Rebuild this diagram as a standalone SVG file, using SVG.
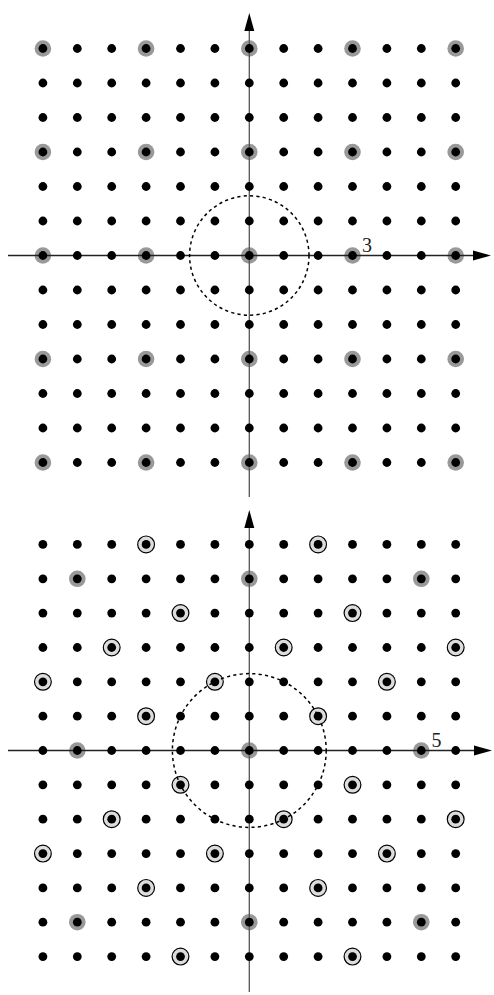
<svg xmlns="http://www.w3.org/2000/svg" xmlns:xlink="http://www.w3.org/1999/xlink" width="494" height="995" viewBox="0 0 494 995">
<style>
.dot{fill:#000}
.grey{fill:#999}
.ring{fill:#ddd;stroke:#000;stroke-width:1.2}
.axh{stroke:#222;stroke-width:1.3;fill:none}
.axv{stroke:#555;stroke-width:1.3;fill:none}
.dash{fill:none;stroke:#000;stroke-width:1.5;stroke-dasharray:3.2 3.2}
.lbl{font-family:"Liberation Serif","DejaVu Serif",serif;font-size:20px;fill:#222}
.head{fill:#000}
</style>
<defs>
<g id="row">
<circle class="dot" cx="42.9" cy="0" r="4.4"/><circle class="dot" cx="77.3" cy="0" r="4.4"/><circle class="dot" cx="111.7" cy="0" r="4.4"/><circle class="dot" cx="146.1" cy="0" r="4.4"/><circle class="dot" cx="180.5" cy="0" r="4.4"/><circle class="dot" cx="214.9" cy="0" r="4.4"/><circle class="dot" cx="249.3" cy="0" r="4.4"/><circle class="dot" cx="283.7" cy="0" r="4.4"/><circle class="dot" cx="318.1" cy="0" r="4.4"/><circle class="dot" cx="352.5" cy="0" r="4.4"/><circle class="dot" cx="386.9" cy="0" r="4.4"/><circle class="dot" cx="421.3" cy="0" r="4.4"/><circle class="dot" cx="455.7" cy="0" r="4.4"/>
</g>
<g id="grow3">
<circle class="grey" cx="42.9" cy="0" r="8.3"/><circle class="grey" cx="146.1" cy="0" r="8.3"/><circle class="grey" cx="249.3" cy="0" r="8.3"/><circle class="grey" cx="352.5" cy="0" r="8.3"/><circle class="grey" cx="455.7" cy="0" r="8.3"/>
</g>
<g id="grow5">
<circle class="grey" cx="77.3" cy="0" r="8.3"/><circle class="grey" cx="249.3" cy="0" r="8.3"/><circle class="grey" cx="421.3" cy="0" r="8.3"/>
</g>
</defs>

<g id="top-panel">
<g id="top-grey">
<use xlink:href="#grow3" y="48.5"/><use xlink:href="#grow3" y="152"/><use xlink:href="#grow3" y="255.5"/><use xlink:href="#grow3" y="359"/><use xlink:href="#grow3" y="462.5"/>
</g>
<g id="top-axes">
<line class="axh" x1="8" y1="255.5" x2="476" y2="255.5"/>
<polygon class="head" points="491,255.5 473,250.5 473,260.5"/>
<line class="axv" x1="249.3" y1="497" x2="249.3" y2="30"/>
<polygon class="head" points="249.3,13 244.3,31 254.3,31"/>
</g>
<circle id="top-circle" class="dash" cx="249.3" cy="255.5" r="59.7"/>
<g id="top-dots">
<use xlink:href="#row" y="48.5"/><use xlink:href="#row" y="83"/><use xlink:href="#row" y="117.5"/><use xlink:href="#row" y="152"/><use xlink:href="#row" y="186.5"/><use xlink:href="#row" y="221"/><use xlink:href="#row" y="255.5"/><use xlink:href="#row" y="290"/><use xlink:href="#row" y="324.5"/><use xlink:href="#row" y="359"/><use xlink:href="#row" y="393.5"/><use xlink:href="#row" y="428"/><use xlink:href="#row" y="462.5"/>
</g>
<text class="lbl" x="362" y="252">3</text>
</g>

<g id="bottom-panel">
<g id="bottom-grey">
<use xlink:href="#grow5" y="578.8"/><use xlink:href="#grow5" y="750.5"/><use xlink:href="#grow5" y="922.2"/>
</g>
<g id="bottom-rings">
<circle class="ring" cx="146.1" cy="544.4" r="8.4"/><circle class="ring" cx="318.1" cy="544.4" r="8.4"/>
<circle class="ring" cx="180.5" cy="613.1" r="8.4"/><circle class="ring" cx="352.5" cy="613.1" r="8.4"/>
<circle class="ring" cx="111.7" cy="647.5" r="8.4"/><circle class="ring" cx="283.7" cy="647.5" r="8.4"/><circle class="ring" cx="455.7" cy="647.5" r="8.4"/>
<circle class="ring" cx="42.9" cy="681.8" r="8.4"/><circle class="ring" cx="214.9" cy="681.8" r="8.4"/><circle class="ring" cx="386.9" cy="681.8" r="8.4"/>
<circle class="ring" cx="146.1" cy="716.2" r="8.4"/><circle class="ring" cx="318.1" cy="716.2" r="8.4"/>
<circle class="ring" cx="180.5" cy="784.8" r="8.4"/><circle class="ring" cx="352.5" cy="784.8" r="8.4"/>
<circle class="ring" cx="111.7" cy="819.2" r="8.4"/><circle class="ring" cx="283.7" cy="819.2" r="8.4"/><circle class="ring" cx="455.7" cy="819.2" r="8.4"/>
<circle class="ring" cx="42.9" cy="853.6" r="8.4"/><circle class="ring" cx="214.9" cy="853.6" r="8.4"/><circle class="ring" cx="386.9" cy="853.6" r="8.4"/>
<circle class="ring" cx="146.1" cy="887.9" r="8.4"/><circle class="ring" cx="318.1" cy="887.9" r="8.4"/>
<circle class="ring" cx="180.5" cy="956.6" r="8.4"/><circle class="ring" cx="352.5" cy="956.6" r="8.4"/>
</g>
<g id="bottom-axes">
<line class="axh" x1="8" y1="750.5" x2="477" y2="750.5"/>
<polygon class="head" points="492,750.5 474,745.5 474,755.5"/>
<line class="axv" x1="249.3" y1="992" x2="249.3" y2="526"/>
<polygon class="head" points="249.3,510 244.3,528 254.3,528"/>
</g>
<circle id="bottom-circle" class="dash" cx="249.3" cy="750.5" r="76.9"/>
<g id="bottom-dots">
<use xlink:href="#row" y="544.4"/><use xlink:href="#row" y="578.8"/><use xlink:href="#row" y="613.1"/><use xlink:href="#row" y="647.5"/><use xlink:href="#row" y="681.8"/><use xlink:href="#row" y="716.2"/><use xlink:href="#row" y="750.5"/><use xlink:href="#row" y="784.8"/><use xlink:href="#row" y="819.2"/><use xlink:href="#row" y="853.6"/><use xlink:href="#row" y="887.9"/><use xlink:href="#row" y="922.2"/><use xlink:href="#row" y="956.6"/>
</g>
<text class="lbl" x="431.5" y="747">5</text>
</g>
</svg>
